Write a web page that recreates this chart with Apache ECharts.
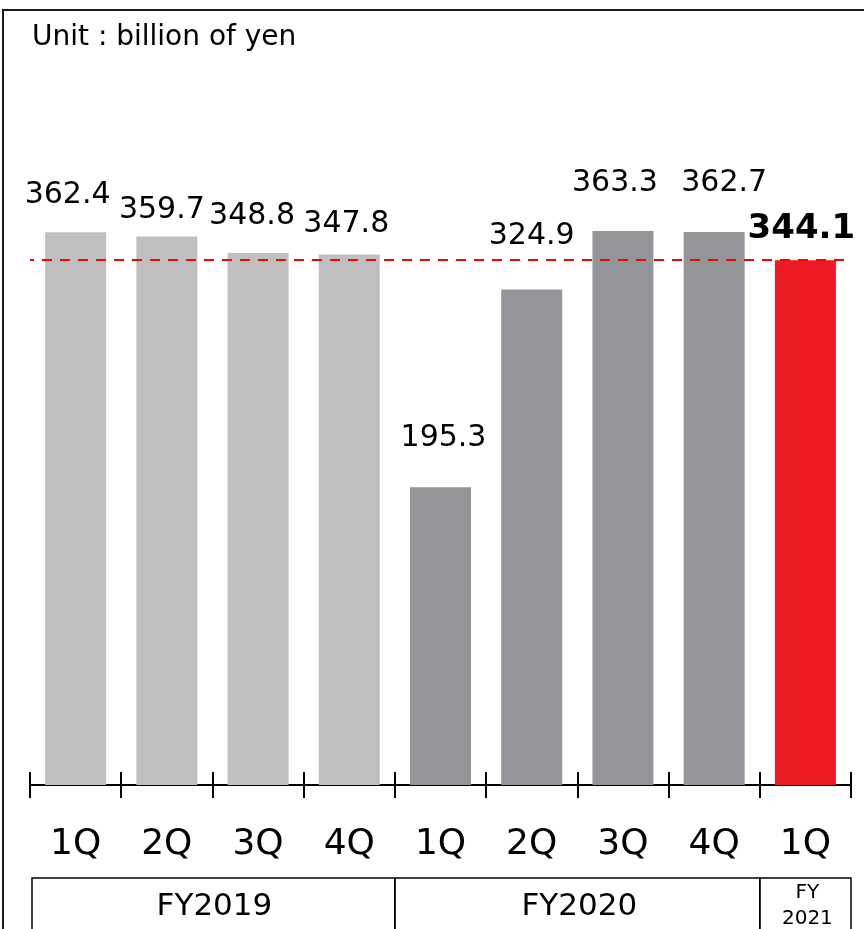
<!DOCTYPE html>
<html>
<head>
<meta charset="utf-8">
<script src="https://cdn.jsdelivr.net/npm/echarts@6/dist/echarts.min.js"></script>
<style>
  html, body { margin: 0; padding: 0; background: #fff; }
  #chart { width: 864px; height: 929px; }
</style>
</head>
<body>
<div id="chart"></div>
<script>
// Quarterly figures, billion of yen
const fiscalYears = ['FY2019', 'FY2020', 'FY2021'];
const quartersPerYear = [4, 4, 1];
const quarterLabels = ['1Q', '2Q', '3Q', '4Q', '1Q', '2Q', '3Q', '4Q', '1Q'];
const values = [362.4, 359.7, 348.8, 347.8, 195.3, 324.9, 363.3, 362.7, 344.1];
const referenceValue = 344.1;

// Presentation settings (colours per fiscal year, label nudges)
const yearColors = ['#bfbfbf', '#939598', '#ed1c24'];
const labelNudgeX = [-8, -5, -6, -3, 3, 0, -8, 10, -4];
const labelGap = [22, 11, 22, 15, 34, 38, 33, 34, 14];
const FONT = 'DejaVu Sans';

// Build per-quarter year index and unique category keys
const yearOfQuarter = [];
quartersPerYear.forEach((n, y) => { for (let i = 0; i < n; i++) yearOfQuarter.push(y); });
const categories = quarterLabels.map((q, i) => fiscalYears[yearOfQuarter[i]] + ' ' + q);
const lastIndex = values.length - 1;

const barData = values.map((v, i) => {
  const isLatest = i === lastIndex;
  return {
    value: v,
    itemStyle: { color: yearColors[yearOfQuarter[i]] },
    label: {
      show: true,
      position: 'top',
      distance: labelGap[i],
      offset: [labelNudgeX[i], 0],
      fontFamily: FONT,
      fontSize: isLatest ? 34 : 30,
      fontWeight: isLatest ? 'bold' : 'normal',
      color: '#000',
      formatter: (p) => p.value.toFixed(1)
    }
  };
});

const chart = echarts.init(document.getElementById('chart'), null, { renderer: 'canvas' });

chart.setOption({
  animation: false,
  backgroundColor: '#fff',
  title: {
    text: 'Unit : billion of yen',
    left: 27,
    top: 19,
    textStyle: { fontFamily: FONT, fontSize: 28, fontWeight: 'normal', color: '#000' }
  },
  grid: { left: 30, right: 13, top: 175, bottom: 144 },
  xAxis: [
    {
      type: 'category',
      data: categories,
      position: 'bottom',
      axisLine: { show: true, lineStyle: { color: '#000', width: 2 } },
      axisTick: { show: true, length: 13, lineStyle: { color: '#000', width: 2 } },
      axisLabel: {
        margin: 42,
        fontFamily: FONT,
        fontSize: 36,
        color: '#000',
        formatter: (v) => v.split(' ')[1]
      }
    },
    {
      type: 'category',
      data: categories,
      position: 'bottom',
      axisLine: { show: false },
      axisTick: { show: true, inside: true, length: 13, lineStyle: { color: '#000', width: 2 } },
      axisLabel: { show: false }
    }
  ],
  yAxis: {
    type: 'value',
    min: 0,
    max: 400,
    show: false,
    splitLine: { show: false }
  },
  series: [{
    type: 'bar',
    xAxisIndex: 0,
    barWidth: 61,
    data: barData,
    markLine: {
      silent: true,
      symbol: 'none',
      label: { show: false },
      lineStyle: { color: '#ff0000', width: 2, type: [10, 8], dashOffset: 6 },
      data: [{ yAxis: referenceValue }]
    }
  }]
});

// Fiscal-year boxes under the quarter labels, plus the outer frame
function drawDecorations() {
  const c0 = chart.convertToPixel({ xAxisIndex: 0 }, 0);
  const c1 = chart.convertToPixel({ xAxisIndex: 0 }, 1);
  const half = (c1 - c0) / 2;
  const boxTop = 878;
  const boxHeight = 70;
  const elements = [];
  let start = 0;
  fiscalYears.forEach((fy, y) => {
    const n = quartersPerYear[y];
    const x0 = chart.convertToPixel({ xAxisIndex: 0 }, start) - half;
    const x1 = chart.convertToPixel({ xAxisIndex: 0 }, start + n - 1) + half;
    const small = n < 2;
    elements.push({
      type: 'rect',
      shape: { x: x0 + (y === 0 ? 2 : 0), y: boxTop, width: x1 - x0 - (y === 0 ? 2 : 0), height: boxHeight },
      style: { fill: 'none', stroke: '#000', lineWidth: 1.5 }
    });
    elements.push({
      type: 'text',
      x: (x0 + x1) / 2 + 2,
      y: small ? 906 : 907,
      style: {
        text: small ? fy.replace('FY', 'FY\n') : fy,
        fontFamily: FONT,
        fontSize: small ? 20 : 31,
        lineHeight: small ? 26 : 36,
        fill: '#000',
        align: 'center',
        verticalAlign: 'middle'
      }
    });
    start += n;
  });
  elements.push({
    type: 'polyline',
    shape: { points: [[3, 935], [3, 10], [870, 10]] },
    style: { fill: 'none', stroke: '#1a1a1a', lineWidth: 2 }
  });
  chart.setOption({ graphic: { elements } });
}
drawDecorations();
</script>
</body>
</html>
